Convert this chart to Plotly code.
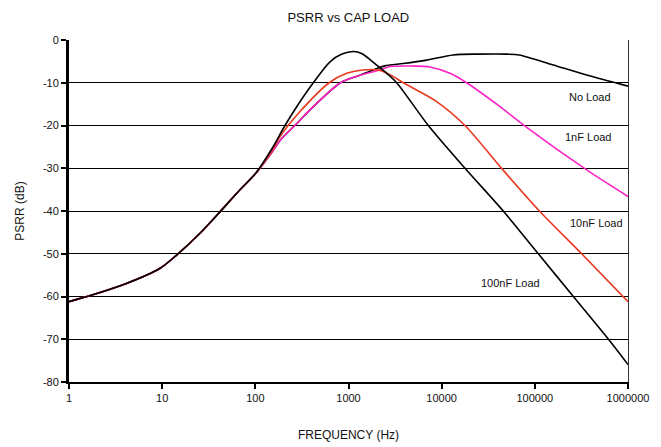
import plotly.graph_objects as go

# Shared low-frequency portion (all loads coincide)
common_freq = [1, 1.8, 4.2, 9.5, 14.3, 25.5, 41.7, 68, 100]
common_psrr = [-61.2, -59.6, -56.9, -53.4, -50.3, -45.2, -40.2, -35.1, -31.3]

noload_freq = [150, 184, 277, 419, 820, 1300, 1900, 2500, 3870, 6900, 13300, 25000, 50000, 68000, 158000, 360000, 1000000]
noload_psrr = [-26.3, -23.5, -19.6, -15.6, -10.0, -8.3, -6.9, -6.0, -5.5, -4.7, -3.5, -3.3, -3.3, -3.5, -5.85, -8.2, -10.8]

nf1_freq = [150, 184, 277, 419, 820, 1300, 2180, 2790, 5000, 7480, 12300, 18500, 42300, 74600, 360000, 1000000]
nf1_psrr = [-26.3, -23.5, -19.6, -15.6, -10.0, -8.3, -7.0, -6.2, -6.1, -6.3, -7.8, -10.0, -15.6, -19.8, -30.4, -36.6]

nf10_freq = [150, 184, 300, 620, 957, 1430, 2180, 3000, 3870, 8830, 17800, 42300, 112000, 318000, 1000000]
nf10_psrr = [-26.0, -22.6, -16.8, -10.0, -7.8, -7.0, -7.1, -8.5, -10.0, -14.4, -20.0, -29.6, -40.0, -50.0, -61.2]

nf100_freq = [150, 208, 278, 419, 633, 850, 1127, 1400, 2000, 2570, 3290, 7190, 17800, 45800, 109000, 259000, 617000, 1000000]
nf100_psrr = [-25.5, -20.0, -15.6, -10.0, -5.1, -3.3, -2.7, -3.2, -5.85, -7.8, -10.0, -20.0, -30.0, -40.0, -50.0, -60.0, -70.0, -75.9]

series = [
    ("No Load", noload_freq, noload_psrr, "#000000"),
    ("1nF Load", nf1_freq, nf1_psrr, "#ff22c4"),
    ("10nF Load", nf10_freq, nf10_psrr, "#e8391f"),
    ("100nF Load", nf100_freq, nf100_psrr, "#000000"),
]

x_ticks = [1, 10, 100, 1000, 10000, 100000, 1000000]
x_ticktext = ["1", "10", "100", "1000", "10000", "100000", "1000000"]
y_ticks = [0, -10, -20, -30, -40, -50, -60, -70, -80]
y_ticktext = ["0", "-10", "-20", "-30", "-40", "-50", "-60", "-70", "-80"]

FONT = "Liberation Sans Narrow, Arial Narrow, Liberation Sans, Arial, sans-serif"
TFONT = "Liberation Sans, Arial, sans-serif"

fig = go.Figure()
for name, f, p, c in series:
    fig.add_trace(go.Scatter(
        x=common_freq + f, y=common_psrr + p, mode="lines", name=name,
        line=dict(color=c, width=1.6, shape="spline", smoothing=0.8), showlegend=False,
    ))

# labels
fig.add_annotation(x=5.839, y=-13.3, text="No Load", showarrow=False, xanchor="right", yanchor="middle")
fig.add_annotation(x=5.839, y=-22.7, text="1nF Load", showarrow=False, xanchor="right", yanchor="middle")
fig.add_annotation(x=5.967, y=-42.8, text="10nF Load", showarrow=False, xanchor="right", yanchor="middle")
fig.add_annotation(x=4.744, y=-56.8, text="100nF Load", showarrow=False, xanchor="center", yanchor="middle")

fig.update_layout(
    width=661, height=447,
    margin=dict(l=69, r=33, t=40, b=65, autoexpand=False),
    paper_bgcolor="white", plot_bgcolor="white",
    font=dict(family=FONT, size=11, color="#111111"),
    title=dict(text="PSRR vs CAP LOAD", x=0.527, xanchor="center", y=0.962, yanchor="middle",
               font=dict(family=TFONT, size=13, color="#111111")),
    xaxis=dict(
        type="log", range=[0, 6], tickvals=x_ticks, ticktext=x_ticktext, automargin=False,
        showgrid=False, zeroline=False, showline=True, linecolor="black", linewidth=1.5,
        ticks="outside", ticklen=5, tickwidth=1.5, tickcolor="black",
        title=dict(text="FREQUENCY (Hz)", font=dict(family=TFONT, size=12), standoff=28),
        tickfont=dict(size=11),
    ),
    yaxis=dict(
        range=[-80, 0], tickvals=y_ticks, ticktext=y_ticktext, automargin=False,
        showgrid=True, gridcolor="black", gridwidth=1.3, zeroline=False,
        showline=True, linecolor="black", linewidth=3,
        ticks="outside", ticklen=5, tickwidth=1.5, tickcolor="black",
        title=dict(text="PSRR (dB)", font=dict(family=TFONT, size=12), standoff=16),
        tickfont=dict(size=11),
    ),
    yaxis2=dict(
        range=[-80, 0], overlaying="y", side="right", showgrid=False, zeroline=False, automargin=False,
        showline=True, linecolor="#333333", linewidth=1, showticklabels=False, ticks="",
    ),
)
fig.add_trace(go.Scatter(x=[1], y=[-80], yaxis="y2", mode="markers", marker=dict(opacity=0), showlegend=False, hoverinfo="skip"))

fig.write_html("out.html", config={"displayModeBar": False}, post_script="document.body.style.margin='0';")
